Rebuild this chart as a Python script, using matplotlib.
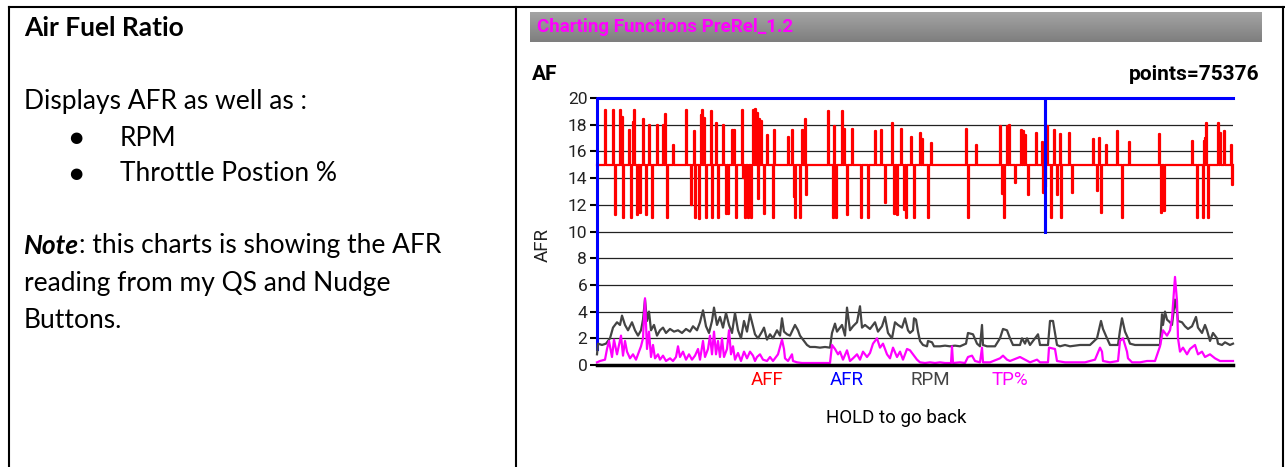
import numpy as np
import matplotlib
matplotlib.use("Agg")
import matplotlib.pyplot as plt
from matplotlib.lines import Line2D
from matplotlib.colors import LinearSegmentedColormap

W, H = 1285, 467
plt.rcParams['font.family'] = ['Roboto', 'DejaVu Sans']

# screen buckets across the chart (75376 points squeezed into 636 buckets)
n_buckets = 636
total_points = 75376

# AFF: spikes away from the 15.0 baseline
aff_base = 15.0
aff_pos = [8, 16, 23, 25, 32, 36, 37, 46, 52, 60, 66, 68, 76, 89, 97, 104, 105, 107, 114, 119,
           126, 135, 137, 145, 156, 158, 160, 162, 164, 170, 177, 191, 195, 205, 208, 231, 237,
           245, 247, 255, 278, 284, 295, 304, 314, 323, 325, 334, 369, 379, 403, 410, 412, 424,
           426, 428, 439, 445, 450, 457, 463, 472, 496, 502, 509, 520, 532, 562, 595, 607, 608,
           609, 621, 623, 627, 634,
           18, 26, 34, 40, 43, 49, 55, 70, 94, 98, 102, 109, 115, 121, 129, 131, 139, 146, 148,
           151, 154, 161, 167, 176, 197, 198, 203, 209, 236, 239, 250, 264, 271, 288, 297, 300,
           307, 309, 317, 331, 371, 405, 407, 418, 431, 446, 448, 454, 460, 464, 475, 500, 504,
           525, 564, 567, 600, 606, 611, 635]
aff_val = [19.1, 19.1, 19.1, 18.6, 17.6, 18.2, 19.1, 18.4, 18.0, 18.0, 18.0, 18.8, 16.5, 19.1,
           17.5, 18.7, 19.1, 18.5, 19.0, 18.1, 18.0, 17.6, 17.6, 19.1, 19.1, 19.2, 18.9, 18.4,
           18.3, 17.2, 17.6, 17.1, 17.6, 17.6, 18.4, 19.0, 17.9, 19.0, 17.7, 17.7, 17.5, 17.6,
           18.1, 17.7, 17.1, 17.4, 16.9, 16.6, 17.7, 16.5, 17.9, 17.9, 18.0, 17.6, 17.5, 17.2,
           17.4, 16.7, 17.9, 17.6, 17.3, 17.4, 16.9, 17.0, 16.5, 17.5, 16.7, 17.3, 16.8, 16.8,
           17.0, 18.1, 18.1, 17.4, 17.5, 16.5,
           11.2, 11.0, 11.0, 11.2, 11.4, 11.2, 11.0, 11.0, 12.0, 11.0, 10.9, 11.0, 11.0, 11.0,
           11.3, 11.3, 11.0, 14.0, 11.0, 11.0, 11.0, 12.4, 11.3, 11.0, 12.6, 11.0, 11.0, 12.7,
           11.0, 11.0, 11.2, 11.0, 11.0, 12.1, 11.3, 11.2, 11.6, 11.0, 11.0, 11.0, 11.0, 12.8,
           11.0, 13.6, 12.7, 12.9, 13.3, 11.0, 12.7, 11.0, 12.9, 13.0, 11.4, 11.0, 11.4, 11.5,
           11.0, 11.0, 11.0, 13.5]

# AFR
afr_pos = [0, 0, 448, 448, 448, 636]
afr_val = [1.2, 20, 20, 10, 20, 20]

# RPM (x1000)
rpm_pos = [0, 1, 5, 9, 13, 16, 20, 23, 25, 28, 31, 35, 38, 41, 44, 46, 48, 50, 52, 54, 57, 60,
           63, 66, 69, 73, 77, 81, 85, 89, 93, 96, 100, 103, 106, 109, 112, 115, 117, 120, 123,
           126, 129, 132, 135, 138, 141, 144, 147, 150, 153, 156, 158, 161, 165, 167, 170, 173,
           176, 180, 183, 185, 187, 190, 193, 198, 201, 203, 206, 210, 213, 218, 223, 228, 233,
           235, 238, 240, 245, 248, 250, 253, 256, 260, 263, 265, 268, 273, 278, 281, 285, 288,
           291, 295, 298, 301, 305, 308, 311, 313, 316, 317, 319, 321, 323, 326, 330, 331, 335,
           337, 343, 348, 353, 358, 363, 369, 371, 376, 380, 383, 385, 386, 390, 398, 403, 406,
           410, 413, 416, 423, 425, 428, 430, 433, 441, 443, 451, 453, 456, 458, 460, 463, 468,
           473, 478, 483, 493, 500, 504, 506, 510, 513, 518, 521, 523, 525, 528, 531, 533, 538,
           543, 548, 553, 563, 565, 566, 568, 570, 573, 575, 578, 580, 581, 585, 588, 591, 595,
           599, 601, 605, 608, 610, 613, 616, 620, 621, 625, 628, 633, 636]
rpm_val = [0.8, 1.6, 1.5, 1.6, 2.0, 2.8, 3.2, 3.0, 3.7, 3.0, 2.6, 3.2, 2.6, 2.2, 2.6, 3.4, 4.9,
           3.3, 4.0, 2.6, 3.0, 2.2, 2.6, 2.8, 2.4, 2.7, 2.5, 2.6, 2.4, 2.7, 2.5, 2.9, 2.6, 3.2,
           4.1, 2.9, 2.4, 3.3, 4.3, 3.0, 3.6, 2.8, 3.9, 3.0, 2.4, 3.9, 2.6, 2.0, 3.3, 2.5, 3.8,
           2.9, 2.3, 2.0, 2.5, 2.8, 1.9, 2.3, 2.0, 2.6, 2.2, 3.5, 2.5, 2.3, 2.2, 3.0, 2.6, 2.2,
           1.9, 1.5, 1.35, 1.35, 1.3, 1.35, 1.3, 2.4, 3.1, 2.5, 3.0, 2.2, 4.3, 2.6, 2.9, 3.2,
           4.4, 2.8, 3.0, 2.7, 3.2, 2.5, 2.9, 3.6, 2.4, 2.0, 3.2, 3.0, 2.8, 3.5, 2.6, 2.4, 2.6,
           3.5, 3.4, 2.5, 1.8, 1.5, 1.4, 1.8, 1.7, 1.4, 1.4, 1.45, 1.4, 1.45, 1.4, 1.6, 2.4, 2.3,
           1.6, 1.4, 3.0, 1.5, 1.4, 1.4, 2.0, 2.7, 2.6, 2.0, 1.5, 1.5, 2.0, 1.6, 2.0, 1.5, 2.3,
           1.5, 1.5, 3.3, 3.3, 2.4, 1.5, 1.4, 1.5, 1.4, 1.45, 1.5, 1.5, 2.0, 3.3, 2.7, 2.0, 1.5,
           1.5, 1.5, 2.6, 3.5, 2.5, 2.0, 1.6, 1.5, 1.5, 1.5, 1.5, 1.5, 3.8, 3.0, 4.0, 3.4, 3.2,
           3.0, 4.9, 4.0, 3.3, 3.2, 2.9, 2.7, 2.9, 3.6, 2.8, 2.4, 3.0, 2.6, 1.8, 2.4, 2.0, 1.6,
           1.5, 1.7, 1.5, 1.6]

# TP%
tp_pos = [0, 3, 8, 10, 12, 15, 17, 20, 22, 24, 26, 28, 30, 33, 36, 39, 42, 44, 46, 48, 50, 52,
          54, 56, 58, 61, 63, 66, 69, 73, 76, 79, 81, 83, 86, 89, 92, 95, 98, 101, 103, 106, 108,
          111, 113, 115, 117, 119, 121, 123, 125, 127, 130, 132, 134, 136, 138, 141, 144, 147,
          150, 153, 156, 158, 160, 163, 166, 170, 173, 176, 181, 185, 187, 188, 191, 195, 196,
          200, 205, 215, 225, 233, 235, 238, 241, 243, 246, 250, 253, 256, 260, 263, 266, 270,
          273, 276, 280, 283, 286, 290, 293, 296, 300, 303, 306, 310, 313, 316, 320, 323, 328,
          333, 338, 343, 348, 354, 355, 356, 363, 368, 371, 375, 378, 383, 385, 386, 393, 403,
          406, 410, 413, 423, 428, 433, 440, 443, 451, 452, 458, 460, 468, 478, 488, 498, 503,
          505, 506, 513, 521, 523, 526, 530, 531, 535, 543, 550, 558, 563, 566, 570, 573, 575,
          578, 580, 581, 583, 586, 590, 593, 598, 601, 605, 608, 613, 618, 623, 636]
tp_val = [0.2, 0.3, 0.4, 1.2, 1.8, 0.6, 1.9, 0.8, 1.5, 2.2, 0.7, 1.8, 1.0, 0.5, 0.8, 0.4, 1.0,
          1.4, 2.0, 5.0, 1.2, 2.5, 0.6, 1.5, 0.5, 0.8, 0.4, 0.7, 0.3, 0.5, 0.3, 0.6, 1.4, 0.6,
          1.0, 0.4, 0.8, 0.4, 0.7, 1.2, 0.4, 1.8, 0.6, 1.2, 2.2, 0.8, 2.5, 0.8, 1.8, 0.6, 2.0,
          0.6, 1.2, 2.6, 0.8, 1.4, 0.4, 0.9, 0.3, 1.0, 0.5, 1.0, 0.7, 0.3, 0.6, 0.8, 0.4, 0.3,
          0.6, 0.3, 0.8, 1.9, 1.2, 0.5, 0.3, 0.8, 0.3, 0.2, 0.15, 0.15, 0.15, 0.15, 1.5, 1.2,
          0.8, 1.0, 0.4, 1.1, 0.3, 0.5, 0.8, 0.4, 1.0, 0.6, 0.9, 1.6, 2.0, 1.3, 1.6, 0.8, 0.5,
          1.3, 0.6, 1.0, 0.4, 1.2, 1.1, 0.8, 0.4, 0.2, 0.15, 0.2, 0.15, 0.2, 0.15, 0.15, 1.4,
          0.15, 0.2, 0.15, 0.6, 0.7, 0.3, 0.2, 1.3, 0.2, 0.2, 0.5, 0.7, 0.4, 0.3, 0.6, 0.4, 0.2,
          0.4, 0.2, 0.2, 1.3, 1.2, 0.3, 0.2, 0.2, 0.2, 0.4, 1.3, 1.0, 0.3, 0.2, 0.3, 1.8, 2.0,
          1.0, 0.5, 0.2, 0.2, 0.3, 0.3, 1.4, 2.6, 2.2, 2.6, 3.5, 6.6, 4.8, 2.0, 1.0, 1.3, 0.8,
          1.2, 1.5, 0.8, 1.0, 0.6, 0.8, 0.5, 0.3, 0.3]

legend_names = ['AFF', 'AFR', 'RPM', 'TP%']
legend_cols = ['#ff0000', '#0000ff', '#444444', '#ff00ff']


def fx(px):
    return px / W


def fy(py):
    return 1 - py / H


fig = plt.figure(figsize=(W / 100, H / 100), dpi=100)

# table borders of the document page
for x0, y0, x1, y1 in [(9, 7, 1285, 7), (9, 7, 9, 467), (516, 7, 516, 467), (1283, 7, 1283, 467)]:
    fig.add_artist(Line2D([fx(x0), fx(x1)], [fy(y0), fy(y1)], color='black', lw=1.5,
                          transform=fig.transFigure))

# left cell text
lf = ['Lato', 'DejaVu Sans']
fs = 19
fig.text(fx(24), fy(28), 'Air Fuel Ratio', family=lf, fontsize=fs, fontweight='bold', va='center')
fig.text(fx(24), fy(102), 'Displays AFR as well as :', family=lf, fontsize=fs, va='center')
for yy, t in [(138, 'RPM'), (174, 'Throttle Postion %')]:
    fig.text(fx(76), fy(yy), '\u25CF', family=['DejaVu Sans'], fontsize=11, va='center', ha='center')
    fig.text(fx(120), fy(yy), t, family=lf, fontsize=fs, va='center')
note = fig.text(fx(24), fy(246), 'Note', family=lf, fontsize=fs, fontweight='bold',
                style='italic', va='center')
r = fig.canvas.get_renderer()
bb = note.get_window_extent(r)
fig.text(bb.x1 / W, fy(246), ': this charts is showing the AFR', family=lf, fontsize=fs, va='center')
fig.text(fx(24), fy(283), 'reading from my QS and Nudge', family=lf, fontsize=fs, va='center')
fig.text(fx(24), fy(320), 'Buttons.', family=lf, fontsize=fs, va='center')

# app header bar
hax = fig.add_axes([fx(530), fy(42), fx(1262) - fx(530), fy(12) - fy(42)])
grad = np.linspace(0, 1, 50).reshape(-1, 1)
hax.imshow(grad, aspect='auto', cmap=LinearSegmentedColormap.from_list('hdr', ['#a4a4a4', '#7e7e7e']))
hax.axis('off')
fig.text(fx(537), fy(27), 'Charting Functions PreRel_1.2', color='#ff00ff', fontsize=13.5,
         fontweight='bold', va='center')

fig.text(fx(532), fy(75), 'AF', fontsize=15, fontweight='bold', va='center')
fig.text(fx(1260), fy(75), 'points=' + str(total_points), fontsize=15, fontweight='bold',
         va='center', ha='right')

# chart
ax = fig.add_axes([fx(597), fy(365), fx(1233) - fx(597), fy(98) - fy(365)])
ax.set_xlim(0, n_buckets)
ax.set_ylim(0, 20)
ax.set_xticks([])
ax.set_yticks(range(0, 21, 2))
for s in ax.spines.values():
    s.set_visible(False)
ax.tick_params(axis='y', length=5, width=1.5, color='black', labelsize=12.5, pad=2,
               labelcolor='#222222')
for v in range(2, 20, 2):
    ax.axhline(v, color='#222222', lw=0.9, zorder=1)
ax.axhline(0, color='black', lw=2.5, clip_on=False, zorder=6)

order = np.argsort(aff_pos, kind='stable')
xs, ys = [0], [aff_base]
for p, v in zip(np.array(aff_pos)[order], np.array(aff_val)[order]):
    xs += [p, p, p + 0.8, p + 0.8]
    ys += [aff_base, v, v, aff_base]
xs.append(n_buckets)
ys.append(aff_base)

ax.plot(xs, ys, color=legend_cols[0], lw=1.6, zorder=2, clip_on=False)
ax.plot(afr_pos, afr_val, color=legend_cols[1], lw=2.2, zorder=3, clip_on=False)
ax.plot(rpm_pos, rpm_val, color=legend_cols[2], lw=1.6, zorder=4, clip_on=False)
ax.plot(tp_pos, tp_val, color=legend_cols[3], lw=1.6, zorder=5, clip_on=False)

fig.text(fx(543), fy(245), 'AFR', rotation=90, fontsize=13.5, va='center', ha='center',
         color='#222222')
for xx, name, c in zip([767, 847, 930, 1010], legend_names, legend_cols):
    fig.text(fx(xx), fy(380), name, color=c, fontsize=13.5, ha='center', va='center')
fig.text(fx(896), fy(418), 'HOLD to go back', fontsize=13.5, ha='center', va='center')

fig.savefig('out.png', dpi=100)
